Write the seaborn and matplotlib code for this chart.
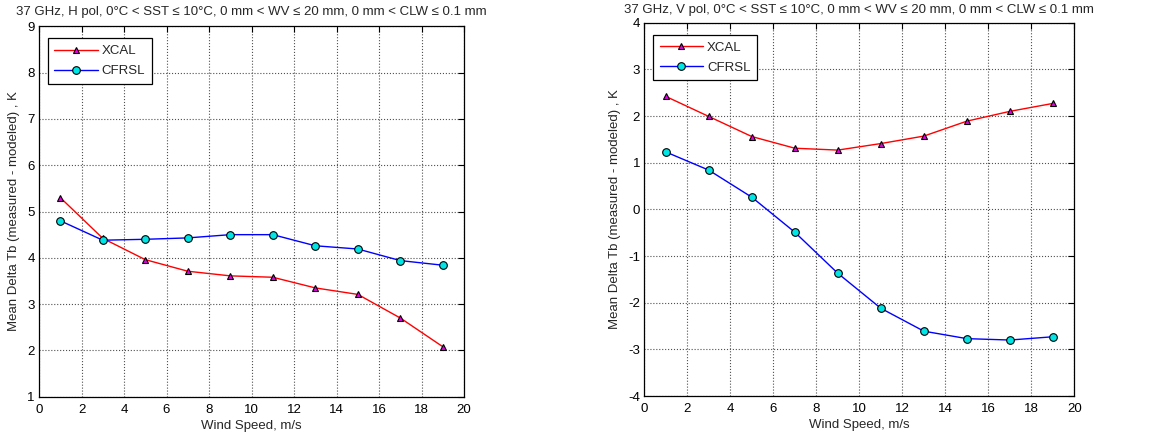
import matplotlib
matplotlib.use("Agg")
import matplotlib.pyplot as plt
import seaborn as sns
import pandas as pd

# Wind speed bins (m/s)
wind_speed = [1, 3, 5, 7, 9, 11, 13, 15, 17, 19]

# 37 GHz H pol mean Tb differences (K)
xcal_h = [5.30, 4.42, 3.96, 3.71, 3.61, 3.58, 3.35, 3.21, 2.70, 2.08]
cfrsl_h = [4.80, 4.38, 4.40, 4.43, 4.50, 4.50, 4.26, 4.19, 3.94, 3.84]

# 37 GHz V pol mean Tb differences (K)
xcal_v = [2.42, 1.99, 1.56, 1.31, 1.27, 1.41, 1.57, 1.89, 2.10, 2.27]
cfrsl_v = [1.23, 0.84, 0.26, -0.49, -1.37, -2.12, -2.61, -2.77, -2.80, -2.73]

titles = [
    "37 GHz, H pol, 0\u00b0C < SST \u2264 10\u00b0C, 0 mm < WV \u2264 20 mm, 0 mm < CLW \u2264 0.1 mm",
    "37 GHz, V pol, 0\u00b0C < SST \u2264 10\u00b0C, 0 mm < WV \u2264 20 mm, 0 mm < CLW \u2264 0.1 mm",
]
x_label = "Wind Speed, m/s"
y_label = "Mean Delta Tb (measured - modeled) , K"

sns.set_theme(style="white")
plt.rcParams["font.family"] = ["Liberation Sans", "DejaVu Sans"]
plt.rcParams["font.size"] = 9.5
plt.rcParams["axes.unicode_minus"] = False

fig = plt.figure(figsize=(11.52, 4.43), dpi=100)
ax_h = fig.add_axes([0.0339, 0.1045, 0.3689, 0.8361])
ax_v = fig.add_axes([0.5593, 0.1060, 0.3733, 0.8428])

panels = [
    (ax_h, xcal_h, cfrsl_h, (1, 9), range(1, 10), titles[0], 8),
    (ax_v, xcal_v, cfrsl_v, (-4, 4), range(-4, 5), titles[1], 7),
]

for ax, xcal, cfrsl, ylim, yticks, title, tpad in panels:
    df = pd.DataFrame({"wind": wind_speed, "XCAL": xcal, "CFRSL": cfrsl})
    sns.lineplot(data=df, x="wind", y="XCAL", ax=ax, color="red", lw=1.0,
                 marker="^", markersize=5, markerfacecolor="#e000e0",
                 markeredgecolor="black", markeredgewidth=0.8, label="XCAL")
    sns.lineplot(data=df, x="wind", y="CFRSL", ax=ax, color="blue", lw=1.0,
                 marker="o", markersize=5.5, markerfacecolor="#00e5e5",
                 markeredgecolor="black", markeredgewidth=0.8, label="CFRSL")
    ax.set_xlim(0, 20)
    ax.set_ylim(*ylim)
    ax.set_xticks(range(0, 21, 2))
    ax.set_yticks(list(yticks))
    ax.grid(True, linestyle=":", color="#505050", linewidth=0.8)
    ax.tick_params(direction="in", top=True, right=True, length=4, width=0.8,
                   labelsize=9.5, colors="black")
    ax.tick_params(axis="x", pad=5)
    ax.tick_params(axis="y", pad=3)
    for s in ax.spines.values():
        s.set_color("black")
        s.set_linewidth(0.9)
    ax.set_xlabel(x_label, fontsize=9.5, labelpad=3)
    ax.set_ylabel(y_label, fontsize=9.5, labelpad=5)
    ax.set_title(title, fontsize=9.5, pad=tpad)
    leg = ax.legend(loc="upper left", frameon=True, fancybox=False,
                    edgecolor="black", fontsize=9.5, handlelength=3.3,
                    borderpad=0.5, labelspacing=0.6, handletextpad=0.3,
                    bbox_to_anchor=(0.005, 0.985))
    leg.get_frame().set_linewidth(0.9)
    leg.get_frame().set_facecolor("white")
    leg.get_frame().set_alpha(1)

fig.savefig("out.png", dpi=100)
